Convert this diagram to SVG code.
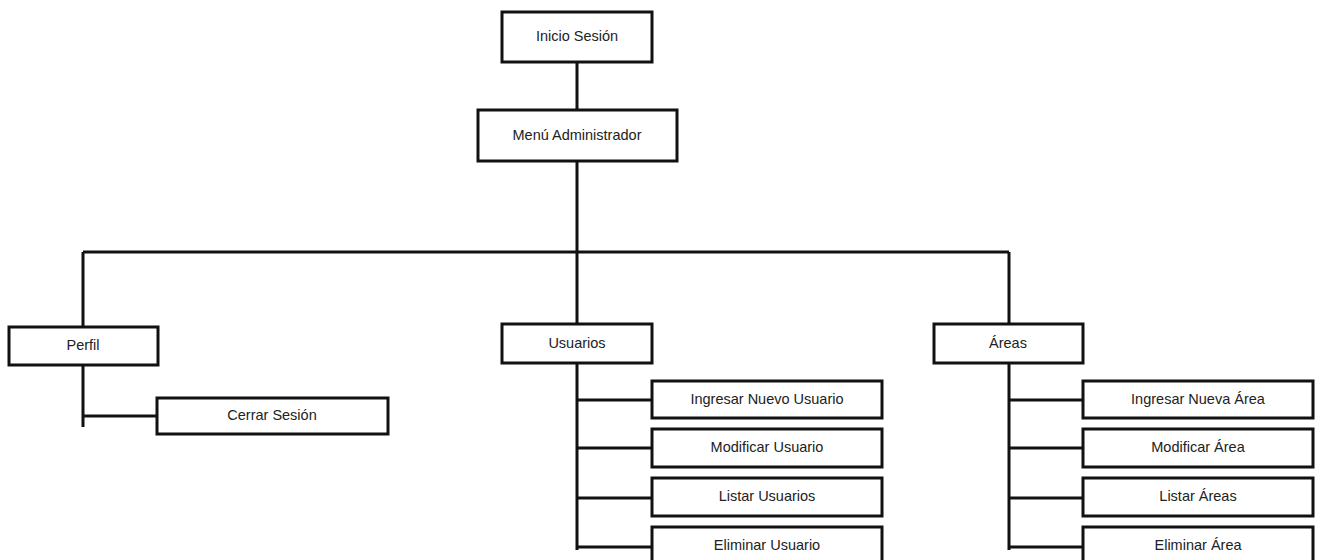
<svg xmlns="http://www.w3.org/2000/svg" width="1333" height="560" viewBox="0 0 1333 560">
<style>
rect{fill:#fff;stroke:#111;stroke-width:3}
text{font-family:"Liberation Sans",Arial,sans-serif;font-size:14.5px;fill:#222;text-anchor:middle;dominant-baseline:central}
.c{fill:none;stroke:#111;stroke-width:3}
</style>
<rect x="0" y="0" width="1333" height="560" style="stroke:none"/>
<g id="connectors">
<path class="c" d="M577 62V110M577 161V252M83 252H1009M83 252V327M577 252V324M1009 252V324"/>
<path class="c" d="M83 365V427M83 416H157"/>
<path class="c" d="M577 363V550M577 400H652M577 448H652M577 498H652M577 547H652"/>
<path class="c" d="M1009 363V550M1009 400H1083M1009 448H1083M1009 498H1083M1009 547H1083"/>
</g>
<g id="inicio"><rect x="502" y="12" width="150" height="50"/><text x="577" y="36">Inicio Sesión</text></g>
<g id="menu"><rect x="478" y="110" width="199" height="51"/><text x="577" y="135">Menú Administrador</text></g>
<g id="perfil"><rect x="9" y="327" width="149" height="38"/><text x="83" y="345">Perfil</text></g>
<g id="cerrar"><rect x="157" y="398" width="231" height="36"/><text x="272" y="415">Cerrar Sesión</text></g>
<g id="usuarios"><rect x="502" y="324" width="150" height="39"/><text x="577" y="343">Usuarios</text></g>
<g id="u1"><rect x="652" y="381" width="230" height="37"/><text x="767" y="399">Ingresar Nuevo Usuario</text></g>
<g id="u2"><rect x="652" y="429" width="230" height="38"/><text x="767" y="447">Modificar Usuario</text></g>
<g id="u3"><rect x="652" y="478" width="230" height="38"/><text x="767" y="496">Listar Usuarios</text></g>
<g id="u4"><rect x="652" y="527" width="230" height="40"/><text x="767" y="545">Eliminar Usuario</text></g>
<g id="areas"><rect x="934" y="324" width="149" height="39"/><text x="1008" y="343">Áreas</text></g>
<g id="a1"><rect x="1083" y="381" width="230" height="37"/><text x="1198" y="399">Ingresar Nueva Área</text></g>
<g id="a2"><rect x="1083" y="429" width="230" height="38"/><text x="1198" y="447">Modificar Área</text></g>
<g id="a3"><rect x="1083" y="478" width="230" height="38"/><text x="1198" y="496">Listar Áreas</text></g>
<g id="a4"><rect x="1083" y="527" width="230" height="40"/><text x="1198" y="545">Eliminar Área</text></g>
</svg>
